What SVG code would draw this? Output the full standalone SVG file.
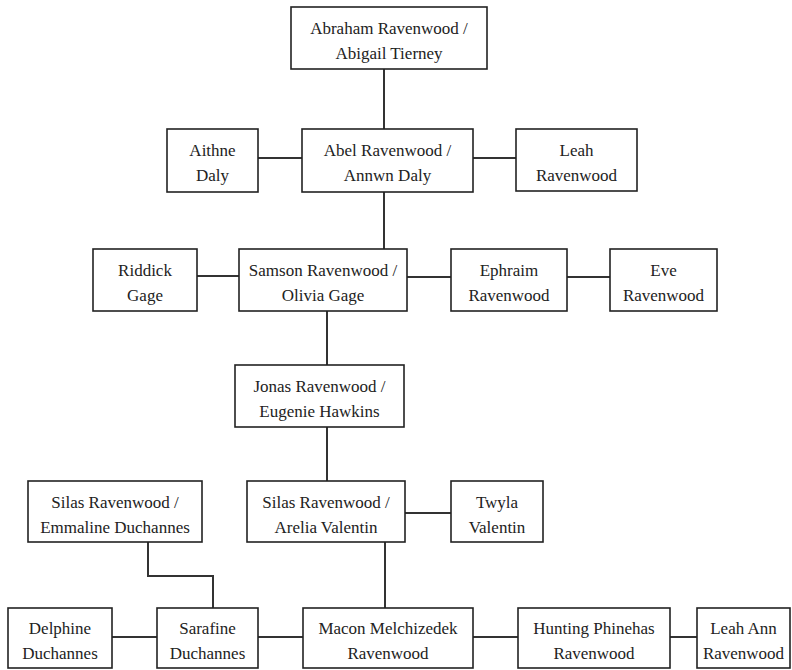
<svg xmlns="http://www.w3.org/2000/svg" width="792" height="670" viewBox="0 0 792 670">
<style>
.box{fill:#fff;stroke:#222;stroke-width:1.6}
text{font-family:'Liberation Serif','DejaVu Serif',serif;font-size:17px;fill:#222;text-anchor:middle}
.c{fill:none;stroke:#333;stroke-width:2}
</style>
<rect width="792" height="670" fill="#fff"/>
<g id="connectors">
<path class="c" d="M384 69V129"/>
<path class="c" d="M258 158H302"/>
<path class="c" d="M473 158H516"/>
<path class="c" d="M384 192V249"/>
<path class="c" d="M197 276H239"/>
<path class="c" d="M407 277H451"/>
<path class="c" d="M567 277H610"/>
<path class="c" d="M327 311V365"/>
<path class="c" d="M327 427V481"/>
<path class="c" d="M405 513H451"/>
<path class="c" d="M148 542V576H213V608"/>
<path class="c" d="M385 542V608"/>
<path class="c" d="M112 637H157"/>
<path class="c" d="M258 637H303"/>
<path class="c" d="M473 637H518"/>
<path class="c" d="M670 637H697"/>
</g>
<g id="abraham"><rect class="box" x="291" y="7" width="196" height="62"/><text x="389" y="34">Abraham Ravenwood /</text><text x="389" y="59">Abigail Tierney</text></g>
<g id="aithne"><rect class="box" x="167" y="129" width="91" height="63"/><text x="212.5" y="156">Aithne</text><text x="212.5" y="181">Daly</text></g>
<g id="abel"><rect class="box" x="302" y="129" width="171" height="63"/><text x="387.5" y="156">Abel Ravenwood /</text><text x="387.5" y="181">Annwn Daly</text></g>
<g id="leah"><rect class="box" x="516" y="129" width="121" height="62"/><text x="576.5" y="156">Leah</text><text x="576.5" y="181">Ravenwood</text></g>
<g id="riddick"><rect class="box" x="93" y="249" width="104" height="62"/><text x="145" y="276">Riddick</text><text x="145" y="301">Gage</text></g>
<g id="samson"><rect class="box" x="239" y="249" width="168" height="62"/><text x="323" y="276">Samson Ravenwood /</text><text x="323" y="301">Olivia Gage</text></g>
<g id="ephraim"><rect class="box" x="451" y="249" width="116" height="62"/><text x="509" y="276">Ephraim</text><text x="509" y="301">Ravenwood</text></g>
<g id="eve"><rect class="box" x="610" y="249" width="107" height="62"/><text x="663.5" y="276">Eve</text><text x="663.5" y="301">Ravenwood</text></g>
<g id="jonas"><rect class="box" x="235" y="365" width="169" height="62"/><text x="319.5" y="392">Jonas Ravenwood /</text><text x="319.5" y="417">Eugenie Hawkins</text></g>
<g id="silas-emmaline"><rect class="box" x="28" y="481" width="174" height="61"/><text x="115" y="508">Silas Ravenwood /</text><text x="115" y="533">Emmaline Duchannes</text></g>
<g id="silas-arelia"><rect class="box" x="247" y="481" width="158" height="61"/><text x="326" y="508">Silas Ravenwood /</text><text x="326" y="533">Arelia Valentin</text></g>
<g id="twyla"><rect class="box" x="451" y="481" width="92" height="61"/><text x="497" y="508">Twyla</text><text x="497" y="533">Valentin</text></g>
<g id="delphine"><rect class="box" x="8" y="608" width="104" height="60"/><text x="60" y="634">Delphine</text><text x="60" y="659">Duchannes</text></g>
<g id="sarafine"><rect class="box" x="157" y="608" width="101" height="60"/><text x="207.5" y="634">Sarafine</text><text x="207.5" y="659">Duchannes</text></g>
<g id="macon"><rect class="box" x="303" y="608" width="170" height="60"/><text x="388" y="634">Macon Melchizedek</text><text x="388" y="659">Ravenwood</text></g>
<g id="hunting"><rect class="box" x="518" y="608" width="152" height="60"/><text x="594" y="634">Hunting Phinehas</text><text x="594" y="659">Ravenwood</text></g>
<g id="leah-ann"><rect class="box" x="697" y="608" width="93" height="60"/><text x="743.5" y="634">Leah Ann</text><text x="743.5" y="659">Ravenwood</text></g>
</svg>
